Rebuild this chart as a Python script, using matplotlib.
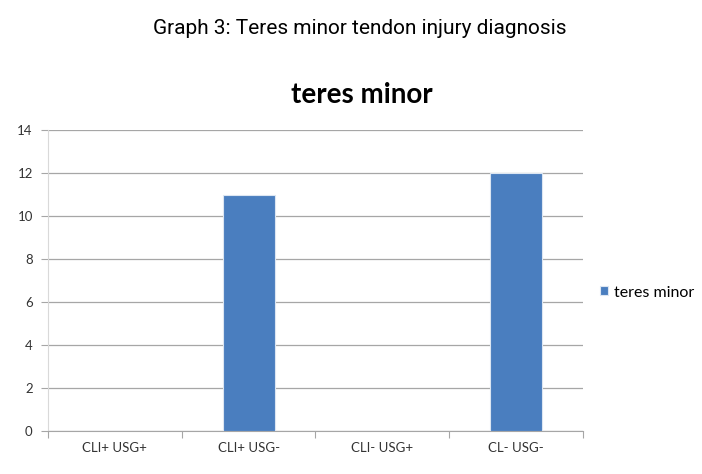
import matplotlib.pyplot as plt
import numpy as np

categories = ["CLI+ USG+", "CLI+ USG-", "CLI- USG+", "CL- USG-"]
values = [0, 11, 0, 12]
series_name = "teres minor"

fig = plt.figure(figsize=(7.02, 4.74), dpi=100)
ax = fig.add_axes([0.0684, 0.0907, 0.762, 0.635])

x = np.arange(len(categories))
ax.bar(x, values, width=0.39, color="#4a7ebf", edgecolor="#dce6f2",
       linewidth=0.8, label=series_name, zorder=3)

ax.set_xlim(-0.5, len(categories) - 0.5)
ax.set_ylim(0, 14)
ax.set_yticks(np.arange(0, 15, 2))
ax.yaxis.grid(True, color="#a6a6a6", linewidth=0.9, zorder=0)

# tick marks between categories, labels centred
ax.set_xticks(np.arange(-0.5, len(categories), 1))
ax.set_xticklabels([])
ax.set_xticks(x, minor=True)
ax.set_xticklabels(categories, minor=True, family="Lato", fontsize=9.5, color="#333333")
ax.tick_params(axis="x", which="minor", length=0, pad=8)
ax.tick_params(axis="x", which="major", length=5, color="#a6a6a6", direction="out")
ax.tick_params(axis="y", length=5, color="#a6a6a6", labelsize=9.5, pad=6, labelcolor="#333333")
for lab in ax.get_yticklabels():
    lab.set_family("Lato")

for s in ["top", "right"]:
    ax.spines[s].set_visible(False)
ax.spines["left"].set_color("#d9d9d9")
ax.spines["bottom"].set_color("#a6a6a6")

fig.text(0.513, 0.94, "Graph 3: Teres minor tendon injury diagnosis",
         ha="center", va="center", fontsize=15, family="Roboto")
fig.text(0.516, 0.80, "teres minor", ha="center", va="center",
         fontsize=20, fontweight="bold", family="Lato")

ax.legend(loc="center left", bbox_to_anchor=(1.005, 0.46), frameon=False,
          prop={"family": "Lato", "size": 11.5}, handlelength=0.5,
          handleheight=0.5, handletextpad=0.4)

fig.savefig("out.png", dpi=100)
